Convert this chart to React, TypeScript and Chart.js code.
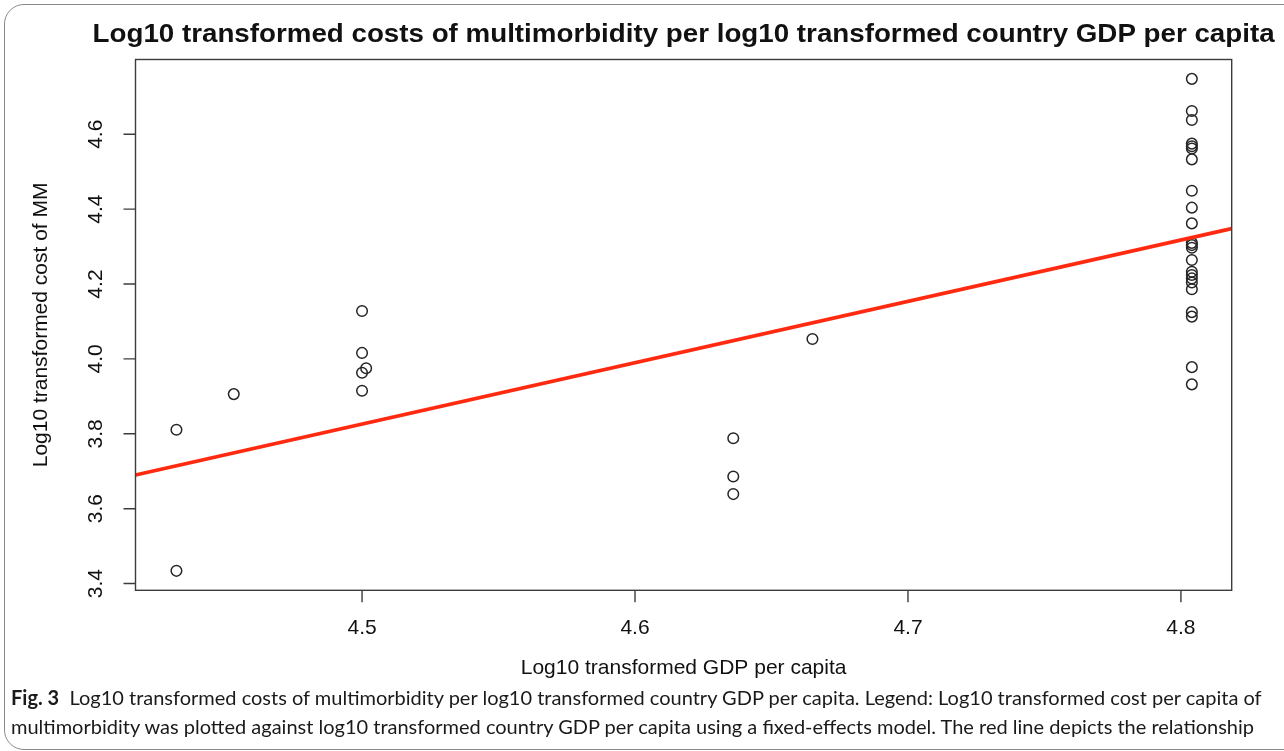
import React, { useEffect, useRef } from "react";
import { Chart, registerables } from "chart.js";

Chart.register(...registerables);

const chartTitle =
  "Log10 transformed costs of multimorbidity per log10 transformed country GDP per capita";
const xAxisTitle = "Log10 transformed GDP per capita";
const yAxisTitle = "Log10 transformed cost of MM";
const captionBold = "Fig. 3";
const captionLine1 =
  "Log10 transformed costs of multimorbidity per log10 transformed country GDP per capita. Legend: Log10 transformed cost per capita of";
const captionLine2 =
  "multimorbidity was plotted against log10 transformed country GDP per capita using a fixed-effects model. The red line depicts the relationship";

const xTickValues = [4.5, 4.6, 4.7, 4.8];
const yTickValues = [3.4, 3.6, 3.8, 4.0, 4.2, 4.4, 4.6];
const xLimits = [4.417, 4.8186];
const yLimits = [3.382, 4.7997];

// Log10 GDP per capita (x) and log10 cost of MM (y) for each observation
const gdpLog = [
  4.432, 4.432,
  4.453,
  4.5, 4.5, 4.5015, 4.5, 4.5,
  4.636, 4.636, 4.636,
  4.665,
  4.804, 4.804, 4.804, 4.804, 4.804, 4.804, 4.804, 4.804, 4.804, 4.804, 4.804, 4.804,
  4.804, 4.804, 4.804, 4.804, 4.804, 4.804, 4.804, 4.804, 4.804, 4.804, 4.804,
];
const costLog = [
  3.811, 3.434,
  3.906,
  4.128, 4.016, 3.975, 3.963, 3.915,
  3.788, 3.686, 3.639,
  4.053,
  4.748, 4.662, 4.638, 4.575, 4.568, 4.562, 4.533, 4.449, 4.404, 4.362, 4.31, 4.304,
  4.297, 4.264, 4.233, 4.224, 4.215, 4.204, 4.186, 4.125, 4.113, 3.978, 3.932,
];

// Fitted fixed-effects line, read at the plot's left and right edges
const fitX = [4.417, 4.8186];
const fitY = [3.69, 4.348];

const TEXT_FONT = '"Liberation Sans", Arial, Helvetica, sans-serif';
const TITLE_TARGET_WIDTH = 1182;

const rAxesPlugin = {
  id: "rAxes",
  afterDatasetsDraw(chart: any) {
    const { ctx, chartArea: a, scales } = chart;
    const x = scales.x;
    const y = scales.y;
    ctx.save();
    // plot box
    ctx.strokeStyle = "#3c3c3c";
    ctx.lineWidth = 1.4;
    ctx.strokeRect(a.left, a.top, a.right - a.left, a.bottom - a.top);
    // tick marks
    ctx.beginPath();
    xTickValues.forEach((v) => {
      const px = x.getPixelForValue(v);
      ctx.moveTo(px, a.bottom);
      ctx.lineTo(px, a.bottom + 12);
    });
    yTickValues.forEach((v) => {
      const py = y.getPixelForValue(v);
      ctx.moveTo(a.left, py);
      ctx.lineTo(a.left - 12, py);
    });
    ctx.stroke();

    ctx.fillStyle = "#111";
    ctx.textAlign = "center";
    ctx.textBaseline = "middle";
    ctx.font = `21px ${TEXT_FONT}`;
    xTickValues.forEach((v) => {
      ctx.fillText(v.toFixed(1), x.getPixelForValue(v), a.bottom + 38);
    });
    yTickValues.forEach((v) => {
      ctx.save();
      ctx.translate(a.left - 39, y.getPixelForValue(v));
      ctx.rotate(-Math.PI / 2);
      ctx.fillText(v.toFixed(1), 0, 0);
      ctx.restore();
    });
    // axis titles
    const cx = (a.left + a.right) / 2;
    const cy = (a.top + a.bottom) / 2;
    ctx.fillText(xAxisTitle, cx, a.bottom + 78);
    ctx.save();
    ctx.translate(a.left - 94, cy);
    ctx.rotate(-Math.PI / 2);
    ctx.fillText(yAxisTitle, 0, 0);
    ctx.restore();
    // main title
    ctx.font = `bold 25px ${TEXT_FONT}`;
    const w = ctx.measureText(chartTitle).width;
    ctx.save();
    ctx.translate(cx, a.top - 24);
    ctx.scale(TITLE_TARGET_WIDTH / w, 1);
    ctx.fillText(chartTitle, 0, 0);
    ctx.restore();
    ctx.restore();
  },
};

export default function App() {
  const canvasRef = useRef<HTMLCanvasElement | null>(null);

  useEffect(() => {
    const canvas = canvasRef.current;
    if (!canvas) return;
    const points = gdpLog.map((g, i) => ({ x: g, y: costLog[i] }));
    const fitPoints = fitX.map((g, i) => ({ x: g, y: fitY[i] }));
    const chart = new Chart(canvas, {
      type: "scatter",
      data: {
        datasets: [
          {
            label: "Countries",
            data: points,
            order: 1,
            pointStyle: "circle",
            pointRadius: 5.3,
            pointHoverRadius: 5.3,
            pointBorderWidth: 1.5,
            borderColor: "#262626",
            backgroundColor: "rgba(0,0,0,0)",
            showLine: false,
          },
          {
            label: "Fit",
            data: fitPoints,
            order: 0,
            showLine: true,
            borderColor: "#ff2a10",
            borderWidth: 3.6,
            pointRadius: 0,
            pointHoverRadius: 0,
            fill: false,
          },
        ],
      },
      options: {
        responsive: false,
        maintainAspectRatio: false,
        devicePixelRatio: 1,
        animation: false,
        events: [],
        layout: {
          padding: { left: 135.5, top: 59.5, right: 52.3, bottom: 160.7 },
        },
        plugins: {
          legend: { display: false },
          tooltip: { enabled: false },
          title: { display: false },
        },
        scales: {
          x: { type: "linear", min: xLimits[0], max: xLimits[1], display: false },
          y: { type: "linear", min: yLimits[0], max: yLimits[1], display: false },
        },
      },
      plugins: [rAxesPlugin],
    });
    return () => chart.destroy();
  }, []);

  return (
    <div
      style={{
        position: "fixed",
        left: 0,
        top: 0,
        width: 1284,
        height: 751,
        overflow: "hidden",
        background: "#fff",
      }}
    >
      <canvas
        ref={canvasRef}
        width={1284}
        height={751}
        style={{ position: "absolute", left: 0, top: 0, display: "block" }}
      />
      <div
        style={{
          position: "absolute",
          left: 4,
          top: 4,
          width: 1300,
          height: 744,
          border: "1.5px solid #8a8a8a",
          borderRadius: 20,
          pointerEvents: "none",
        }}
      />
      <div
        style={{
          position: "absolute",
          left: 11,
          top: 683,
          fontFamily: "Lato, 'Noto Sans', sans-serif",
          fontSize: 20,
          lineHeight: "29px",
          color: "#1a1a1a",
          whiteSpace: "nowrap",
        }}
      >
        <div>
          <b>{captionBold}</b>&nbsp;&nbsp;{captionLine1}
        </div>
        <div>{captionLine2}</div>
      </div>
    </div>
  );
}
